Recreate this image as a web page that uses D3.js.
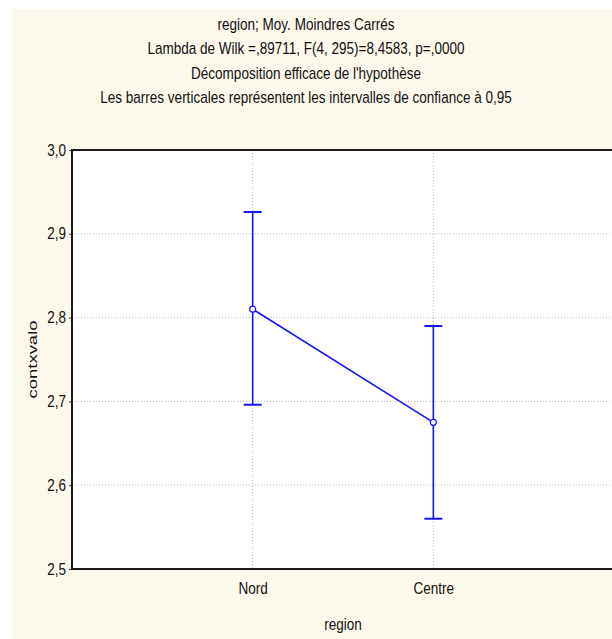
<!DOCTYPE html>
<html>
<head>
<meta charset="utf-8">
<script src="https://cdn.jsdelivr.net/npm/d3@7"></script>
<style>
  html, body { margin: 0; padding: 0; background: #ffffff; }
  svg { display: block; }
  text { font-family: "Liberation Sans", Arial, sans-serif; fill: #111; }
</style>
</head>
<body>
<svg id="chart" width="612" height="639"></svg>
<script>
// ---- data ----
const categories = ["Nord", "Centre"];
const means = [2.810, 2.675];
const lowerCI = [2.696, 2.560];
const upperCI = [2.926, 2.790];
const yTicks = [2.5, 2.6, 2.7, 2.8, 2.9, 3.0];
const titleLines = [
  "region; Moy. Moindres Carrés",
  "Lambda de Wilk =,89711, F(4, 295)=8,4583, p=,0000",
  "Décomposition efficace de l'hypothèse",
  "Les barres verticales représentent les intervalles de confiance à 0,95"
];
const xLabel = "region";
const yLabel = "contxvalo";

// ---- layout ----
const W = 612, H = 639;
const plot = { left: 72, top: 150, bottom: 569, right: 614 };
const NARROW = 0.845;   // horizontal condensation to mimic a narrow face
const FS = 16;
const svg = d3.select("#chart");

svg.append("rect").attr("x", 12).attr("y", 9).attr("width", W - 12).attr("height", H - 9)
  .attr("fill", "#fdf8ec");

const x = d3.scaleLinear().domain([0, categories.length + 1]).range([plot.left, plot.right]);
const y = d3.scaleLinear().domain([2.5, 3.0]).range([plot.bottom, plot.top]);

svg.append("rect").attr("x", plot.left).attr("y", plot.top)
  .attr("width", plot.right - plot.left).attr("height", plot.bottom - plot.top)
  .attr("fill", "#ffffff");

// gridlines
svg.append("g").selectAll("line").data(yTicks.filter(d => d > 2.5 && d < 3.0)).join("line")
  .attr("x1", plot.left).attr("x2", plot.right)
  .attr("y1", d => y(d)).attr("y2", d => y(d))
  .attr("stroke", "#b8b8b8").attr("stroke-width", 1).attr("stroke-dasharray", "1,2");
svg.append("g").selectAll("line").data(categories).join("line")
  .attr("x1", (d, i) => x(i + 1)).attr("x2", (d, i) => x(i + 1))
  .attr("y1", plot.top).attr("y2", plot.bottom)
  .attr("stroke", "#b8b8b8").attr("stroke-width", 1).attr("stroke-dasharray", "1,2");

// y axis
const yAxis = d3.axisLeft(y).tickValues(yTicks).tickSize(3).tickPadding(3)
  .tickFormat(d => d3.format(".1f")(d).replace(".", ","));
const gy = svg.append("g").attr("transform", `translate(${plot.left},0)`).call(yAxis);
gy.select(".domain").remove();
gy.selectAll(".tick line").attr("stroke", "#333");
gy.selectAll(".tick text")
  .attr("font-size", FS).attr("fill", "#111")
  .style("font-family", '"Liberation Sans", Arial, sans-serif')
  .attr("x", -6 / NARROW)
  .attr("transform", `scale(${NARROW},1)`);

// x axis labels
const xAxis = d3.axisBottom(x).tickValues(categories.map((d, i) => i + 1))
  .tickFormat((d) => categories[d - 1]).tickSize(0).tickPadding(14);
const gx = svg.append("g").attr("transform", `translate(0,${plot.bottom})`).call(xAxis);
gx.select(".domain").remove();
gx.selectAll(".tick text")
  .attr("font-size", FS).attr("fill", "#111")
  .style("font-family", '"Liberation Sans", Arial, sans-serif')
  .attr("transform", `scale(${NARROW},1)`);

// frame
const frame = svg.append("g").attr("stroke", "#1a1a1a").attr("stroke-width", 2).attr("fill", "none");
frame.append("line").attr("x1", plot.left).attr("x2", plot.right).attr("y1", plot.top).attr("y2", plot.top);
frame.append("line").attr("x1", plot.left).attr("x2", plot.right).attr("y1", plot.bottom).attr("y2", plot.bottom);
frame.append("line").attr("x1", plot.left).attr("x2", plot.left).attr("y1", plot.top - 1).attr("y2", plot.bottom + 1);

// error bars
const blue = "#1414ff";
const eb = svg.append("g").attr("stroke", blue).attr("stroke-width", 1.6);
categories.forEach((c, i) => {
  const cx = x(i + 1);
  eb.append("line").attr("x1", cx).attr("x2", cx).attr("y1", y(lowerCI[i])).attr("y2", y(upperCI[i]));
  eb.append("line").attr("x1", cx - 9).attr("x2", cx + 9).attr("y1", y(lowerCI[i])).attr("y2", y(lowerCI[i])).attr("stroke-width", 2);
  eb.append("line").attr("x1", cx - 9).attr("x2", cx + 9).attr("y1", y(upperCI[i])).attr("y2", y(upperCI[i])).attr("stroke-width", 2);
});

// mean line
svg.append("path").datum(means)
  .attr("d", d3.line().x((d, i) => x(i + 1)).y(d => y(d)))
  .attr("fill", "none").attr("stroke", blue).attr("stroke-width", 1.6);

svg.append("g").selectAll("circle").data(means).join("circle")
  .attr("cx", (d, i) => x(i + 1)).attr("cy", d => y(d)).attr("r", 3)
  .attr("fill", "#ffffff").attr("stroke", blue).attr("stroke-width", 1.2);

// titles
svg.append("g").selectAll("text").data(titleLines).join("text")
  .attr("transform", (d, i) => `translate(306,${30 + i * 24.3}) scale(${NARROW},1)`)
  .attr("text-anchor", "middle").attr("font-size", FS)
  .text(d => d);

// axis titles
svg.append("text")
  .attr("transform", `translate(${(plot.left + plot.right) / 2},630) scale(${NARROW},1)`)
  .attr("text-anchor", "middle").attr("font-size", FS).text(xLabel);
svg.append("text").attr("transform", `translate(37,${(plot.top + plot.bottom) / 2}) rotate(-90)`)
  .attr("text-anchor", "middle").attr("font-size", 13)
  .attr("textLength", 78).attr("lengthAdjust", "spacingAndGlyphs")
  .text(yLabel);
</script>
</body>
</html>
